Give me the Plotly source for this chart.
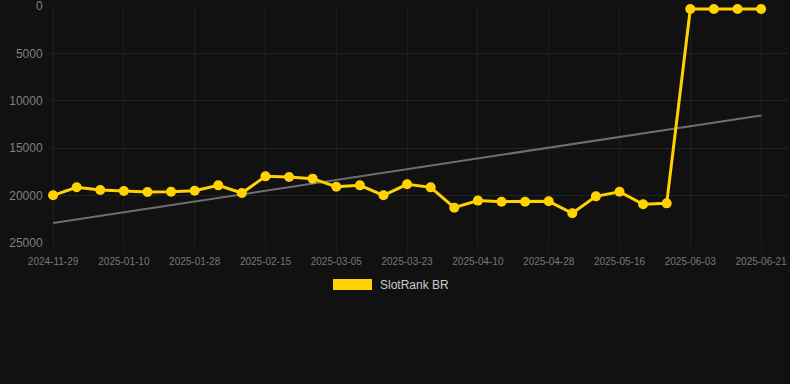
import numpy as np
import plotly.graph_objects as go

dates = ["2024-11-29", "2024-12-13", "2024-12-27", "2025-01-10", "2025-01-16", "2025-01-22",
         "2025-01-28", "2025-02-03", "2025-02-09", "2025-02-15", "2025-02-21", "2025-02-27",
         "2025-03-05", "2025-03-11", "2025-03-17", "2025-03-23", "2025-03-29", "2025-04-04",
         "2025-04-10", "2025-04-16", "2025-04-22", "2025-04-28", "2025-05-04", "2025-05-10",
         "2025-05-16", "2025-05-22", "2025-05-28", "2025-06-03", "2025-06-09", "2025-06-15",
         "2025-06-21"]
ranks = [19970, 19120, 19410, 19510, 19620, 19590, 19480, 18920, 19730, 17970, 18040, 18210,
         19060, 18920, 19970, 18810, 19130, 21270, 20530, 20640, 20640, 20600, 21870, 20080,
         19590, 20920, 20820, 320, 320, 320, 320]
tick_labels = dates[::3]
y_ticks = [0, 5000, 10000, 15000, 20000, 25000]
y_tick_text = ["0", "5000", "10000", "15000", "20000", "25000"]
series_name = "SlotRank BR"

idx = np.arange(len(dates))
slope, intercept = np.polyfit(idx, ranks, 1)
trend = slope * idx + intercept

gold = "#FFD200"
fig = go.Figure()
fig.add_trace(go.Scatter(x=[idx[0], idx[-1]], y=[trend[0], trend[-1]], mode="lines",
                         line=dict(color="#6e6e6e", width=2), showlegend=False, hoverinfo="skip",
                         cliponaxis=False))
fig.add_trace(go.Scatter(x=idx, y=ranks, mode="lines+markers", name=series_name,
                         line=dict(color=gold, width=3), marker=dict(color=gold, size=10),
                         showlegend=False, cliponaxis=False))

fig.update_layout(
    width=790, height=384, paper_bgcolor="#111111", plot_bgcolor="#111111",
    margin=dict(l=50, r=2, t=6, b=141),
    font=dict(family="Liberation Sans, Arial, sans-serif", color="#777777"),
    xaxis=dict(range=[-0.13, 31.14], tickmode="array", tickvals=idx[::3], ticktext=tick_labels,
               tickfont=dict(size=10, color="#777777"), showgrid=True, gridcolor="#1f1f1f",
               zeroline=False, showline=False, ticks="outside", ticklen=9, tickcolor="#1c1c1c",
               automargin=False, ticklabeloverflow="allow"),
    yaxis=dict(range=[25000, 0], tickmode="array", tickvals=y_ticks, ticktext=y_tick_text,
               tickfont=dict(size=12, color="#808080"),
               showgrid=True, gridcolor="#222222", zeroline=False, showline=False,
               ticks="outside", ticklen=4, tickcolor="rgba(0,0,0,0)", automargin=False,
               ticklabeloverflow="allow"),
    showlegend=False,
)
fig.add_shape(type="rect", xref="paper", yref="paper", x0=(333-50)/738, x1=(372-50)/738,
              y0=(384-141-290)/237, y1=(384-141-279)/237, fillcolor=gold, line=dict(width=0))
fig.add_annotation(xref="paper", yref="paper", x=(378-50)/738, y=(384-141-284.5)/237,
                   text=series_name, showarrow=False, xanchor="left", yanchor="middle",
                   font=dict(size=12, color="#cccccc"))
fig.write_html("out.html", config={"displayModeBar": False},
               post_script="document.body.style.margin='0';document.body.style.background='#111111';")
